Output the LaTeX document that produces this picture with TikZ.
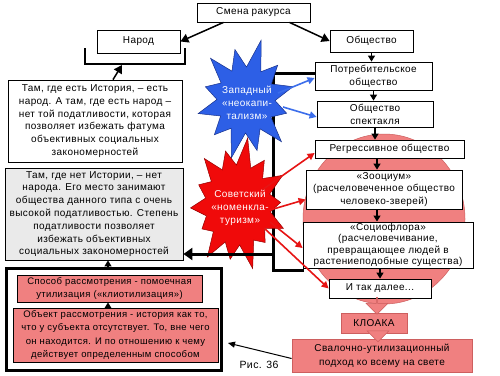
\documentclass[tikz,border=0pt]{standalone}
\usepackage{fontspec}
\setmainfont{Liberation Sans}[LetterSpace=4]
\usetikzlibrary{arrows.meta,shapes.arrows,calc}
\definecolor{pinkf}{RGB}{240,128,128}
\definecolor{pinkd}{RGB}{205,95,95}
\definecolor{greyf}{RGB}{234,234,234}
\definecolor{bluef}{RGB}{45,95,230}
\definecolor{blued}{RGB}{25,50,140}
\definecolor{bluea}{RGB}{60,110,235}
\definecolor{redf}{RGB}{240,10,10}
\definecolor{redd}{RGB}{150,0,0}
\definecolor{reda}{RGB}{230,20,20}
\begin{document}
\begin{tikzpicture}[x=1pt,y=-1pt,
  txt/.style={font=\fontsize{10}{12.8}\selectfont},
  box/.style={draw,line width=0.8pt,fill=white,align=center,inner sep=1pt,txt},
  pinkbox/.style={box,fill=pinkf},
  greybox/.style={box,fill=greyf},
  startext/.style={align=center,text=white,txt,inner sep=0pt},
  arr/.style={line width=1.2pt,-{Triangle[length=6pt,width=7pt]}},
  marr/.style={line width=1.5pt,-{Triangle[length=8pt,width=9pt]}},
  bigarr/.style={line width=3pt,-{Triangle[length=9pt,width=12pt]}},
  barr/.style={line width=1.6pt,draw=bluea,-{Triangle[length=7pt,width=7pt]}},
  rarr/.style={line width=1.6pt,draw=reda,-{Triangle[length=7pt,width=7pt]}},
  blockarr/.style={single arrow,fill=pinkf,draw=pinkd,line width=0.6pt,rotate=-90,
     minimum width=22pt,single arrow head extend=5pt,inner sep=0pt},
  thick3/.style={line width=3pt}
]
\useasboundingbox (0,0) rectangle (500,375);
\fill[white] (0,0) rectangle (500,375);

% background ellipse
\fill[pinkf,draw=pinkd,line width=0.5pt] (384,219) ellipse [x radius=81, y radius=85];

% brackets
\draw[line width=2.2pt] (85,48) -- (85,64) -- (185,64) -- (185,48);
\draw[thick3] (316,73) -- (273,73) -- (273,270) -- (304,270);

% left boxes
\node[box,minimum width=113pt,minimum height=19pt] (smena) at (253.5,12.5) {Смена ракурса};
\node[box,minimum width=83pt,minimum height=23pt] (narod) at (138.5,41.5) {Народ};
\node[box,minimum width=174pt,minimum height=82pt] (txt1) at (95,121)
 {Там, где есть История, – есть\\народ. А там, где есть народ –\\нет той податливости, которая\\позволяет избежать фатума\\объективных социальных\\закономерностей};
\node[greybox,minimum width=178pt,minimum height=92pt] (grey) at (94,214)
 {Там, где нет Истории, – нет\\народа. Его место занимают\\общества данного типа с очень\\высокой податливостью. Степень\\податливости позволяет\\избежать объективных\\социальных закономерностей};
\node[draw,line width=3pt,minimum width=215pt,minimum height=102pt] (big) at (113.5,319.5) {};
\node[pinkbox,font=\fontsize{9.5}{13}\selectfont,minimum width=185pt,minimum height=27pt] (sposob) at (109.5,288.5)
 {Способ рассмотрения - помоечная\\утилизация («клиотилизация»)};
\node[pinkbox,font=\fontsize{9.5}{13.3}\selectfont,minimum width=205pt,minimum height=54pt] (obekt) at (115.5,335)
 {Объект рассмотрения - история как то,\\что у субъекта отсутствует. То, вне чего\\он находится. И по отношению к чему\\действует определенным способом};

% right boxes
\node[box,minimum width=83pt,minimum height=22pt] (obsch) at (371.5,41) {Общество};
\node[box,minimum width=117pt,minimum height=28pt] (potreb) at (373.5,76) {Потребительское\\общество};
\node[box,minimum width=116pt,minimum height=26pt] (spekt) at (375,114) {Общество\\спектакля};
\node[box,minimum width=149pt,minimum height=18pt] (regr) at (389.5,149) {Регрессивное общество};
\node[box,minimum width=156pt,minimum height=39pt] (zoo) at (384,189.5)
 {«Зооциум»\\(расчеловеченное общество\\человеко-зверей)};
\node[box,font=\fontsize{10}{11.6}\selectfont,minimum width=170pt,minimum height=46pt] (flora) at (388,245)
 {«Социофлора»\\(расчеловечивание,\\превращающее людей в\\растениеподобные существа)};
\node[box,minimum width=102pt,minimum height=19pt] (idal) at (380,288.5) {И так далее...};
\node[pinkbox,draw=pinkd,minimum width=66pt,minimum height=20pt] (kloaka) at (374,323) {КЛОАКА};
\node[pinkbox,draw=pinkd,font=\fontsize{10}{14}\selectfont,minimum width=180pt,minimum height=33pt] (sval) at (382,355.5)
 {Свалочно-утилизационный\\подход ко всему на свете};
\node[txt,font=\fontsize{10.5}{12}\selectfont] (ris) at (259,365) {Рис. 36};

% stars
\begin{scope}[shift={(246,100)},xscale=0.88]
\fill[bluef,draw=blued,line width=0.5pt] (-74:62)
  \foreach \r [count=\i from 0] in {62,50,55,48,58,52,60,50,56,48,58,52}
  { -- ({-74+\i*30}:\r) -- ({-59+\i*30}:33) } -- cycle;
\end{scope}
\begin{scope}[shift={(238,205)},xscale=0.82]
\fill[redf,draw=redd,line width=0.5pt] (-80:68)
  \foreach \r [count=\i from 0] in {68,55,62,52,60,50,66,55,64,50,58,52,62,56}
  { -- ({-80+\i*25.714}:\r) -- ({-67.14+\i*25.714}:40) } -- cycle;
\end{scope}
\node[startext] (bstar) at (247,103) {Западный\\«неокапи-\\тализм»};
\node[startext] (rstar) at (240,208) {Советский\\«номенкла-\\туризм»};

% coordinates
\coordinate (ax) at (377,0);
\coordinate (lx) at (108,0);
\coordinate (nb) at (122,65);
\coordinate (bk) at (273,254);
\coordinate (rtip) at (228,343);
\coordinate (bs1) at (278,93);
\coordinate (bs2) at (283,107);
\coordinate (rs1) at (262,190);
\coordinate (rs2) at (270,210);
\coordinate (rs3) at (270,222);
\coordinate (rs4) at (264,228);

% black connectors
\draw[marr] ([xshift=-30pt]smena.south) -- (narod.east);
\draw[marr] ([xshift=36pt]smena.south) -- (obsch.west);
\draw[marr] ([xshift=18pt]txt1.north) -- (nb);
\draw[arr] (obsch.south) -- (obsch.south |- potreb.north);
\draw[arr] (potreb.south) -- (potreb.south |- spekt.north);
\draw[arr] (spekt.south) -- (spekt.south |- regr.north);
\draw[arr] (regr.south -| ax) -- (zoo.north -| ax);
\draw[arr] (zoo.south -| ax) -- (flora.north -| ax);
\draw[arr] (flora.south -| idal.north) -- (idal.north);
\draw[bigarr] (bk) -- (grey.east |- bk);
\draw[arr] (obekt.north -| lx) -- (sposob.south -| lx);
\draw[arr] (big.north -| lx) -- (grey.south -| lx);
\draw[line width=1pt,-{Triangle[length=7pt,width=6pt]}] ([yshift=-3pt]sval.west) -- (rtip);

% block arrows
\node[blockarr,minimum height=17pt] (ba1) at ($(idal.south)!0.5!(kloaka.north)$) {};
\node[blockarr,minimum height=11pt] (ba2) at ($(kloaka.south)!0.5!(sval.north)$) {};

% blue arrows
\draw[barr] (bs1) -- ([yshift=-2pt]potreb.west);
\draw[barr] (bs2) -- ([yshift=-3pt]spekt.west);
% red arrows
\draw[rarr] (rs1) -- ([yshift=-4pt]regr.west);
\draw[rarr] (rs2) -- ([yshift=-10pt]zoo.west);
\draw[rarr] (rs3) -- ([yshift=-3pt]flora.west);
\draw[rarr] (rs4) -- (idal.west);
\end{tikzpicture}
\end{document}
